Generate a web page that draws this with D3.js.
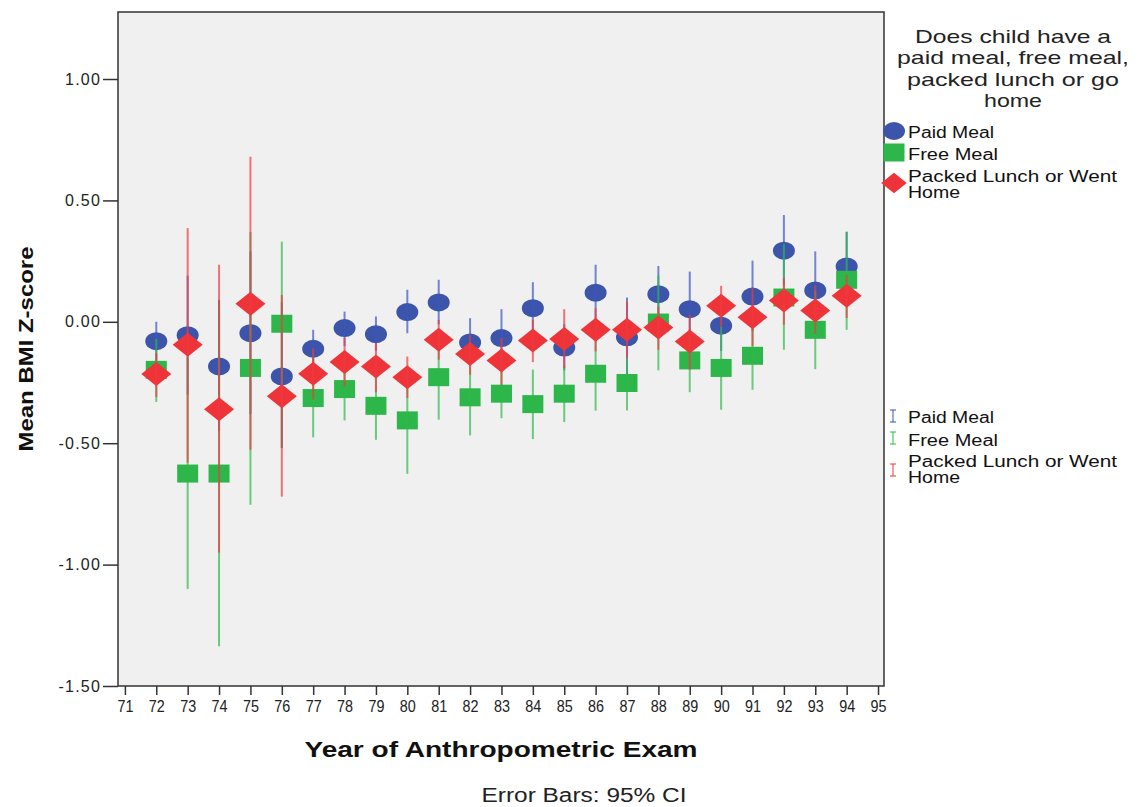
<!DOCTYPE html>
<html><head><meta charset="utf-8">
<script src="https://cdn.jsdelivr.net/npm/d3@7"></script>
<style>body{margin:0;background:#fff}svg{display:block}</style>
</head><body>
<script>
const years = [72,73,74,75,76,77,78,79,80,81,82,83,84,85,86,87,88,89,90,91,92,93,94];
const xTicks = d3.range(71,96);
const yTicks = [1.0,0.5,0.0,-0.5,-1.0,-1.5];

const paidMean = [-0.08,-0.055,-0.184,-0.047,-0.225,-0.111,-0.026,-0.051,0.04,0.08,-0.085,-0.067,0.056,-0.106,0.12,-0.064,0.114,0.052,-0.016,0.104,0.293,0.129,0.228];
const paidLo   = [-0.16,-0.30,-0.45,-0.38,-0.52,-0.19,-0.10,-0.12,-0.047,-0.01,-0.18,-0.18,-0.05,-0.20,0.01,-0.22,0.0,-0.10,-0.12,-0.04,0.15,-0.03,0.08];
const paidHi   = [0.0,0.19,0.09,0.29,0.08,-0.033,0.042,0.022,0.132,0.173,0.015,0.052,0.163,-0.01,0.235,0.10,0.23,0.207,0.09,0.252,0.44,0.29,0.37];

const freeMean = [-0.198,-0.625,-0.625,-0.19,-0.008,-0.314,-0.277,-0.346,-0.406,-0.228,-0.311,-0.296,-0.339,-0.296,-0.214,-0.252,-0.003,-0.159,-0.19,-0.14,0.10,-0.033,0.173];
const freeLo   = [-0.33,-1.10,-1.336,-0.753,-0.52,-0.476,-0.406,-0.486,-0.626,-0.403,-0.468,-0.397,-0.483,-0.413,-0.366,-0.365,-0.2,-0.29,-0.362,-0.28,-0.115,-0.195,-0.033];
const freeHi   = [-0.07,-0.15,0.09,0.37,0.33,-0.15,-0.15,-0.21,-0.19,-0.053,-0.155,-0.195,-0.197,-0.18,-0.06,-0.14,0.19,-0.03,-0.02,0.0,0.32,0.13,0.372];

const packMean = [-0.215,-0.095,-0.36,0.074,-0.307,-0.214,-0.166,-0.184,-0.228,-0.074,-0.133,-0.159,-0.077,-0.071,-0.033,-0.033,-0.023,-0.081,0.066,0.019,0.088,0.047,0.107];
const packLo   = [-0.31,-0.58,-0.95,-0.527,-0.72,-0.32,-0.266,-0.29,-0.314,-0.156,-0.218,-0.26,-0.166,-0.19,-0.122,-0.15,-0.115,-0.197,-0.02,-0.10,-0.012,-0.05,0.016];
const packHi   = [-0.13,0.386,0.235,0.68,0.11,-0.11,-0.067,-0.087,-0.143,0.008,-0.053,-0.066,0.008,0.052,0.056,0.084,0.063,0.029,0.148,0.139,0.18,0.15,0.193];

const seriesNames = ["Paid Meal","Free Meal","Packed Lunch or Went Home"];
const colors = ["#3c55aa","#2db64a","#ee3438"];
const lineColors = ["#3a55c0","#2fb84c","#f03a40"];

const W=1143,H=807;
const FONT="Liberation Sans, Arial, sans-serif";
const svg=d3.select("body").append("svg").attr("width",W).attr("height",H);
const L=118,R=884,T=12,B=686;
const x=d3.scaleLinear().domain([70.78,95.19]).range([L,R]);
const y=d3.scaleLinear().domain([-1.5,1.276]).range([B,T]);

svg.append("rect").attr("x",L).attr("y",T).attr("width",R-L).attr("height",B-T)
  .attr("fill","#f0f0f0").attr("stroke","#333").attr("stroke-width",1.5);

// y axis
const yAx=svg.append("g").attr("transform",`translate(${L},0)`)
  .call(d3.axisLeft(y).tickValues(yTicks).tickFormat(d=>d.toFixed(2)).tickSize(15).tickPadding(2).tickSizeOuter(0));
yAx.select(".domain").remove();
yAx.selectAll("line").attr("stroke","#333").attr("stroke-width",1.5);
yAx.selectAll("text").attr("font-family",FONT).attr("font-size",16)
  .attr("letter-spacing","1.2px").attr("fill","#222");

// x axis
const xAx=svg.append("g").attr("transform",`translate(0,${B})`)
  .call(d3.axisBottom(x).tickValues(xTicks).tickFormat(d3.format("d")).tickSize(9).tickSizeOuter(0));
xAx.select(".domain").remove();
xAx.selectAll("line").attr("stroke","#333").attr("stroke-width",1.5);
xAx.selectAll("text").attr("font-family",FONT).attr("font-size",17)
  .attr("fill","#222").attr("y",14).attr("textLength",16).attr("lengthAdjust","spacingAndGlyphs");

const data=[
  years.map((yr,i)=>({yr,m:paidMean[i],lo:paidLo[i],hi:paidHi[i]})),
  years.map((yr,i)=>({yr,m:freeMean[i],lo:freeLo[i],hi:freeHi[i]})),
  years.map((yr,i)=>({yr,m:packMean[i],lo:packLo[i],hi:packHi[i]}))
];

const plot=svg.append("g");
function drawMarker(g,s,cx,cy,k=1){
  if(s===0) g.append("ellipse").attr("cx",cx).attr("cy",cy).attr("rx",11*k).attr("ry",9*k).attr("fill",colors[0]);
  else if(s===1) g.append("rect").attr("x",cx-10.5*k).attr("y",cy-9*k).attr("width",21*k).attr("height",18*k).attr("fill",colors[1]);
  else g.append("path").attr("d",`M${cx-15*k},${cy}L${cx},${cy-12*k}L${cx+15*k},${cy}L${cx},${cy+12*k}Z`).attr("fill",colors[2]);
}
for(let s=0;s<3;s++){
  data[s].forEach(d=>{
    drawMarker(plot,s,x(d.yr),y(d.m));
  });
  plot.selectAll(null).data(data[s]).enter().append("line")
    .attr("x1",d=>x(d.yr)).attr("x2",d=>x(d.yr)).attr("y1",d=>y(d.lo)).attr("y2",d=>y(d.hi))
    .attr("stroke",lineColors[s]).attr("stroke-width",2).attr("stroke-opacity",0.7);
}

// axis titles
svg.append("text").attr("transform","translate(33,349) rotate(-90)").attr("text-anchor","middle")
  .attr("font-family",FONT).attr("font-weight","bold")
  .attr("font-size",21).attr("fill","#111").attr("textLength",205).attr("lengthAdjust","spacingAndGlyphs")
  .text("Mean BMI Z-score");
svg.append("text").attr("x",501).attr("y",757).attr("text-anchor","middle")
  .attr("font-family",FONT).attr("font-weight","bold")
  .attr("font-size",22).attr("fill","#111").attr("textLength",393).attr("lengthAdjust","spacingAndGlyphs")
  .text("Year of Anthropometric Exam");
svg.append("text").attr("x",584).attr("y",802).attr("text-anchor","middle")
  .attr("font-family",FONT)
  .attr("font-size",20).attr("fill","#222").attr("textLength",205).attr("lengthAdjust","spacingAndGlyphs")
  .text("Error Bars: 95% CI");

// legend
const titleLines=["Does child have a","paid meal, free meal,","packed lunch or go","home"];
const titleLens=[196,232,212,58];
titleLines.forEach((t,i)=>svg.append("text").attr("x",1013).attr("y",43+i*21.3).attr("text-anchor","middle")
  .attr("font-family",FONT).attr("font-size",19)
  .attr("textLength",titleLens[i]).attr("lengthAdjust","spacingAndGlyphs")
  .attr("fill","#222").text(t));
const lg=svg.append("g");
const legY=[131,152.5,183];
seriesNames.forEach((n,i)=>{
  drawMarker(lg,i,894,legY[i],i===2?0.85:1);
});
const legText=(yy,items)=>items.forEach((it,k)=>svg.append("text").attr("x",908).attr("y",yy+k*16)
  .attr("font-family",FONT).attr("font-size",16).attr("fill","#111")
  .attr("textLength",it[1]).attr("lengthAdjust","spacingAndGlyphs").text(it[0]));
legText(138,[["Paid Meal",86]]);legText(160,[["Free Meal",90]]);
legText(182,[["Packed Lunch or Went",209],["Home",52]]);

const ebY=[416,438,470];
ebY.forEach((yy,i)=>{
  const g=svg.append("g").attr("stroke",lineColors[i]).attr("stroke-width",1.2).attr("stroke-opacity",0.85);
  g.append("line").attr("x1",893).attr("x2",893).attr("y1",yy-6).attr("y2",yy+6);
  g.append("line").attr("x1",890).attr("x2",896).attr("y1",yy-6).attr("y2",yy-6);
  g.append("line").attr("x1",890).attr("x2",896).attr("y1",yy+6).attr("y2",yy+6);
});
legText(423,[["Paid Meal",86]]);legText(446,[["Free Meal",90]]);
legText(467,[["Packed Lunch or Went",209],["Home",52]]);
</script>
</body></html>
